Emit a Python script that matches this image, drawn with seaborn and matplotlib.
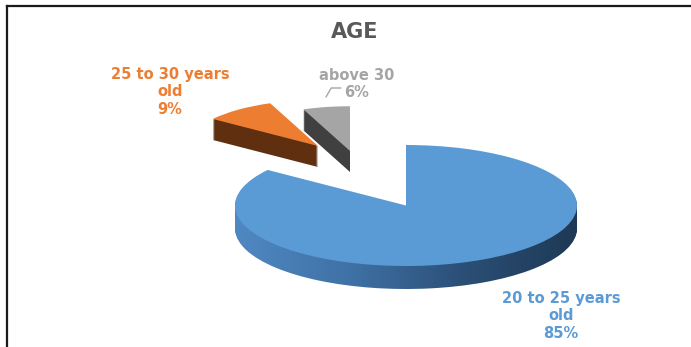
import numpy as np
import matplotlib
matplotlib.use("Agg")
import matplotlib.pyplot as plt
from matplotlib.colors import LinearSegmentedColormap
import seaborn as sns

# ---- data -------------------------------------------------------------
categories = ["20 to 25 years old", "25 to 30 years old", "above 30"]
shares = [85, 9, 6]
label_names = ["20 to 25 years\nold", "25 to 30 years\nold", "above 30"]
chart_title = "AGE"

# ---- style ------------------------------------------------------------
sns.set_theme(style="white")
plt.rcParams["font.family"] = ["DejaVu Sans"]

top_colors = sns.color_palette(["#5b9bd5", "#ed7d31", "#a5a5a5"])
side_colors = ["#3d6c9c", "#5f2f0f", "#404040"]
blue_side_cmap = LinearSegmentedColormap.from_list(
    "blue_side", ["#5088c2", "#3f72a6", "#2b4f76", "#1e3955"])

W, H, DPI = 691, 347, 100
fig = plt.figure(figsize=(W / DPI, H / DPI), dpi=DPI)
fig.patch.set_facecolor("white")

# outer frame: only top and left edges are shown
frame = fig.add_axes([7 / W, 0, 1 - 7 / W, (H - 6) / H])
frame.set_xticks([])
frame.set_yticks([])
frame.patch.set_alpha(0)
for s in ("right", "bottom"):
    frame.spines[s].set_visible(False)
for s in ("left", "top"):
    frame.spines[s].set_color("#1a1a1a")
    frame.spines[s].set_linewidth(1.6)

ax = fig.add_axes([0, 0, 1, 1])
ax.set_axis_off()

# pixel layout -> data units (the pie is squashed into an ellipse)
CX, CY, RX, RY = 406, 205.5, 171, 60.5


def to_data(px, py):
    return (px - CX) / RX, (CY - py) / RY


def draw_slice(idx, center, radius, depth_px, zorder, gradient=None):
    """Extruded pie slice: stacked copies for the side, then the top face."""
    cx, cy = center
    n = int(round(depth_px))
    for k in range(n, -1, -1):
        off = k / RY
        wedges, _ = ax.pie(shares, radius=radius, center=(cx, cy - off),
                           startangle=90, counterclock=False, frame=True,
                           wedgeprops=dict(linewidth=0))
        for i, w in enumerate(wedges):
            if i != idx:
                w.remove()
                continue
            w.set_zorder(zorder)
            if k == 0:
                w.set_facecolor(top_colors[idx])
            elif gradient is not None:
                w.set_facecolor("none")
                grad = np.linspace(0, 1, 256).reshape(1, -1)
                im = ax.imshow(grad, cmap=gradient, aspect="auto",
                               interpolation="bilinear",
                               extent=(cx - radius, cx + radius,
                                       cy - off - radius, cy - off + radius),
                               zorder=zorder)
                im.set_clip_path(w)
            else:
                w.set_facecolor(side_colors[idx])


# exploded small slices (further back, so drawn smaller)
draw_slice(1, to_data(318, 146), 0.76, 21, zorder=2)
draw_slice(2, to_data(350, 151), 0.74, 21, zorder=2)
# main slice
draw_slice(0, (0.0, 0.0), 1.0, 23, zorder=3, gradient=blue_side_cmap)

ax.set_aspect("auto")
ax.set_xlim(to_data(0, 0)[0], to_data(W, 0)[0])
ax.set_ylim(to_data(0, H)[1], to_data(0, 0)[1])

# ---- text -------------------------------------------------------------
fig.text(355 / W, 1 - 31.5 / H, chart_title, ha="center", va="center",
         fontsize=15, fontweight="bold", color="#595959")

label_pos = [(561, 316), (170, 92), (357, 84)]
for name, share, (px, py), col in zip(label_names, shares, label_pos, top_colors):
    fig.text(px / W, 1 - py / H, f"{name}\n{share}%", ha="center", va="center",
             fontsize=10.5, fontweight="bold", color=col, linespacing=1.2)

# leader line for the smallest slice
ax.annotate("", xy=to_data(326, 97), xytext=to_data(341, 88),
            arrowprops=dict(arrowstyle="-", color="#a5a5a5", lw=1,
                            shrinkA=0, shrinkB=0,
                            connectionstyle="angle,angleA=0,angleB=60,rad=0"))

fig.savefig("out.png", dpi=DPI, facecolor="white")
